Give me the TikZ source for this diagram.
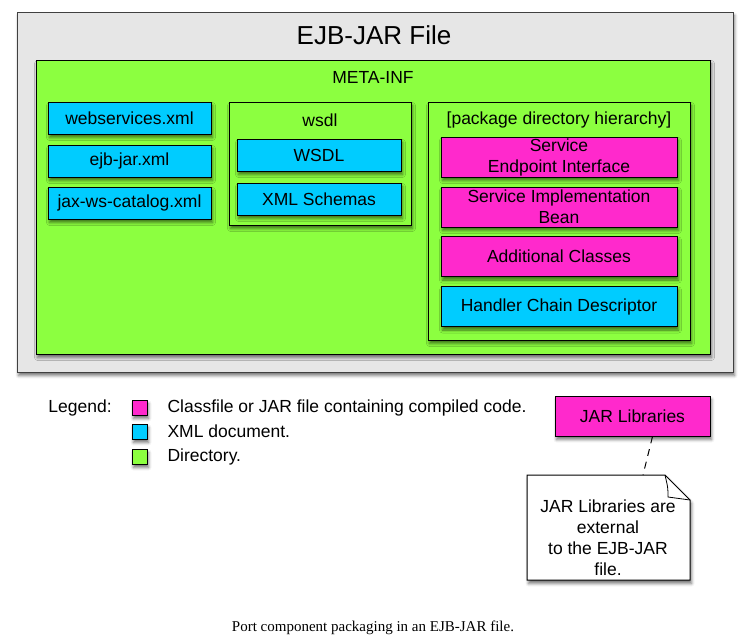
\documentclass[tikz,border=0pt]{standalone}
\usepackage{fontspec}
\setmainfont{Liberation Sans}
\newfontfamily\captionfont{Liberation Serif}
\usetikzlibrary{shadows.blur,positioning}
\definecolor{jargray}{RGB}{230,230,230}
\definecolor{dirgreen}{RGB}{140,255,64}
\definecolor{xmlblue}{RGB}{0,204,255}
\definecolor{classpink}{RGB}{255,41,204}
\tikzset{
  boxshadow/.style={blur shadow={shadow xshift=1.5pt,shadow yshift=-3.5pt,shadow blur radius=3pt,shadow opacity=55}},
  basebox/.style={draw,line width=1pt,boxshadow,inner sep=0pt,align=center},
  jarbox/.style={basebox,fill=jargray,draw=black!75},
  dirbox/.style={basebox,fill=dirgreen},
  xmlbox/.style={basebox,fill=xmlblue},
  classbox/.style={basebox,fill=classpink},
  legendbox/.style={basebox,minimum size=15pt},
  legendtext/.style={anchor=west,font=\fontsize{17.5}{21}\selectfont}
}
\begin{document}
\begin{tikzpicture}[x=1pt,y=-1pt,every node/.style={font=\fontsize{17.5}{21}\selectfont}]
	\useasboundingbox (0,0) rectangle (753,643);
	% the jar file and its META-INF directory
	\node[jarbox,minimum width=716pt,minimum height=360pt] (ejbjar) at (375,192) {};
	\node[font=\fontsize{26}{30}\selectfont] (ejbjartitle) at (374,35) {EJB-JAR File};
	\node[dirbox,minimum width=674pt,minimum height=294pt] (metainf) at (373,207) {};
	\node (metainftitle) at (373,77) {META-INF};
	% descriptors
	\node[xmlbox,minimum width=163pt,minimum height=32pt] (websvc) at (129.5,118) {webservices.xml};
	\node[xmlbox,minimum width=163pt,minimum height=32pt] (ejbxml) at (129.5,161) {ejb-jar.xml};
	\node[xmlbox,minimum width=163pt,minimum height=32pt] (catalog) at (129.5,203) {jax-ws-catalog.xml};
	% wsdl directory
	\node[dirbox,minimum width=182pt,minimum height=123pt] (wsdldir) at (320,163.5) {};
	\node (wsdltitle) at (320,120) {wsdl};
	\node[xmlbox,minimum width=164pt,minimum height=32pt] (wsdl) at (319,155) {WSDL};
	\node[xmlbox,minimum width=164pt,minimum height=32pt] (schemas) at (319,199) {XML Schemas};
	% package hierarchy
	\node[dirbox,minimum width=262pt,minimum height=238pt] (pkgdir) at (559,221) {};
	\node (pkgtitle) at (559,120) {[package directory hierarchy]};
	\node[classbox,minimum width=236pt,minimum height=40pt] (sei) at (559,157) {Service\\Endpoint Interface};
	\node[classbox,minimum width=236pt,minimum height=40pt] (sib) at (559,207) {Service Implementation\\Bean};
	\node[classbox,minimum width=236pt,minimum height=40pt] (addcls) at (559,256.5) {Additional Classes};
	\node[xmlbox,minimum width=236pt,minimum height=40pt] (handler) at (559,306.5) {Handler Chain Descriptor};
	% legend
	\node[legendtext,anchor=center] (legend) at (80,408) {Legend:};
	\node[legendbox,fill=classpink] (lgclass) at (139.5,407.5) {};
	\node[legendbox,fill=xmlblue] (lgxml) at (139.5,431.5) {};
	\node[legendbox,fill=dirgreen] (lgdir) at (139.5,456.5) {};
	\node[legendtext] (lgclasstext) at (164,407.5) {Classfile or JAR file containing compiled code.};
	\node[legendtext] (lgxmltext) at (164,431.5) {XML document.};
	\node[legendtext] (lgdirtext) at (164,456.5) {Directory.};
	% external libraries and note
	\node[classbox,minimum width=155pt,minimum height=40pt] (jarlib) at (632.5,416) {JAR Libraries};
	\filldraw[fill=white,line width=1pt,boxshadow] (527,475) -- (665,475) -- (690,500) -- (690,580) -- (527,580) -- cycle;
	\draw[line width=0.8pt] (665,475) .. controls (668,488) .. (668,497) -- (690,500);
	\node[align=center] (note) at (608,538) {JAR Libraries are\\external\\to the EJB-JAR\\file.};
	\coordinate (notetop) at (643,475);
	\draw[line width=1pt,dash pattern=on 7pt off 6pt] ([xshift=20pt]jarlib.south) -- (notetop);
	% caption
	\node[font=\captionfont\fontsize{15}{18}\selectfont] (caption) at (373,628) {Port component packaging in an EJB-JAR file.};
\end{tikzpicture}
\end{document}
